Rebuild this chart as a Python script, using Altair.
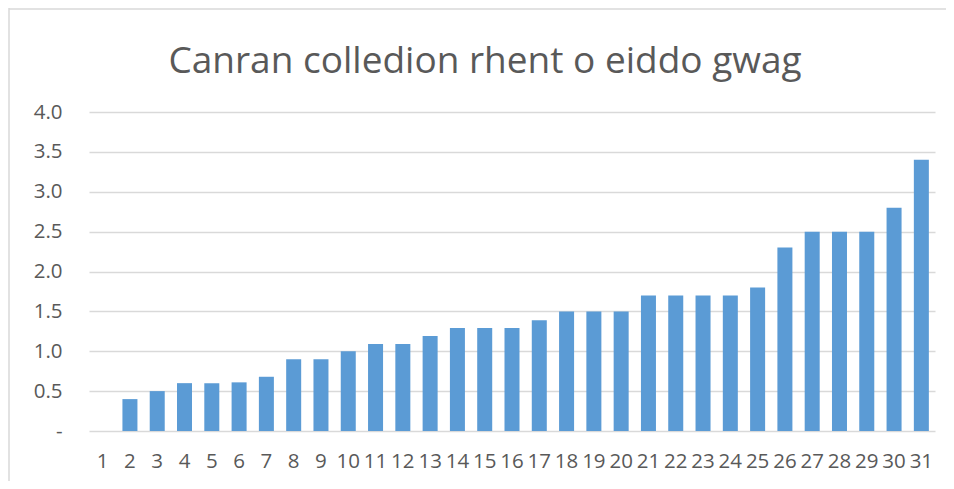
import altair as alt
import pandas as pd

categories = [str(i) for i in range(1, 32)]
values = [0.0, 0.40, 0.50, 0.60, 0.60, 0.61, 0.68, 0.90, 0.90, 1.00,
          1.09, 1.09, 1.19, 1.29, 1.29, 1.29, 1.39, 1.50, 1.50, 1.50,
          1.70, 1.70, 1.70, 1.70, 1.80, 2.30, 2.50, 2.50, 2.50, 2.80, 3.40]
title_text = "Canran colledion rhent o eiddo gwag"
y_ticks = [0, 0.5, 1.0, 1.5, 2.0, 2.5, 3.0, 3.5, 4.0]

df = pd.DataFrame({"cat": categories, "value": values})

TEXT = "#595959"
FONT = "Open Sans"

bars = alt.Chart(df).mark_bar(color="#5B9BD5").encode(
    x=alt.X("cat:N", sort=categories, title=None,
            scale=alt.Scale(paddingInner=0.45, paddingOuter=0.225),
            axis=alt.Axis(labelAngle=0, labelFontSize=20.5, labelColor=TEXT,
                          labelFont=FONT, ticks=False, domain=False,
                          labelPadding=20, grid=False)),
    y=alt.Y("value:Q", title=None,
            scale=alt.Scale(domain=[0, 4], nice=False),
            axis=alt.Axis(values=y_ticks, labelFontSize=20.5, labelColor=TEXT,
                          labelFont=FONT, ticks=False, domain=False,
                          labelPadding=27, gridColor="#D9D9D9", gridWidth=1.3,
                          labelExpr="datum.value == 0 ? '-\u00a0' : format(datum.value, '.1f')")),
)

tdf = pd.DataFrame({"t": [title_text]})
title_mark = alt.Chart(tdf).mark_text(
    font=FONT, fontSize=37, color=TEXT, align="center", baseline="alphabetic"
).encode(text="t:N", x=alt.value(396), y=alt.value(-39))

border = pd.DataFrame({"a": [0]})
left_rule = alt.Chart(border).mark_rule(color="#D9D9D9", strokeWidth=1.5).encode(
    x=alt.value(-80), y=alt.value(-104), y2=alt.value(380))
top_rule = alt.Chart(border).mark_rule(color="#D9D9D9", strokeWidth=1.5).encode(
    x=alt.value(-80), x2=alt.value(870), y=alt.value(-103))

chart = alt.layer(bars, title_mark, left_rule, top_rule).properties(
    width=846, height=319,
    autosize=alt.AutoSizeParams(type="none"),
    padding={"left": 81, "top": 104, "right": 11, "bottom": 50},
).configure(background="white").configure_view(stroke=None)

chart.save("out.html", embed_options={"renderer": "svg", "actions": False})
